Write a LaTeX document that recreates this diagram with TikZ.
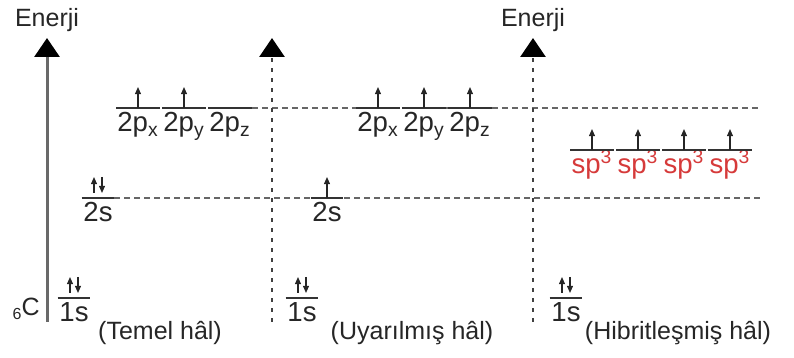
\documentclass[tikz,border=0pt]{standalone}
\usepackage{fontspec}
\setmainfont{Liberation Sans}
\usetikzlibrary{arrows.meta}
\definecolor{hibred}{RGB}{214,58,58}
\definecolor{axgray}{RGB}{105,105,105}

\begin{document}
\begin{tikzpicture}[x=0.5pt, y=0.5pt, node distance=23pt, text=black!85,
  orb/.style = {inner xsep=0pt, inner ysep=2pt, anchor=north, minimum width=21.5pt,
    text height=9.8pt, text depth=3pt, font=\fontsize{13.8}{16}\selectfont},
  orbs/.style = {orb, minimum width=16pt},
  hib/.style = {orb, text=hibred},
  state/.style = {font=\fontsize{12.5}{15}\selectfont},
  line/.style = {line width=0.8pt, draw=black!80},
  lvl/.style = {line width=0.75pt, draw=black!60, dash pattern=on 3pt off 2pt},
  mainax/.style = {line width=1.5pt, draw=axgray, -{Triangle[width=12.5pt,length=9.5pt,color=black]}},
  dotax/.style = {line width=1.4pt, draw=black!75, dash pattern=on 2.2pt off 2.8pt,
    -{Triangle[width=12.5pt,length=9.5pt,color=black]}},
  el/.style = {line width=0.65pt, draw=black!85, -{Triangle[width=3pt,length=3.6pt]}}]

\useasboundingbox (0,0) rectangle (794,358);

% axes
\coordinate (b1) at (47,36);  \coordinate (t1) at (47,320);
\coordinate (b2) at (272,36); \coordinate (t2) at (272,320);
\coordinate (b3) at (533,36); \coordinate (t3) at (533,320);
\coordinate (endP) at (760,250);
\coordinate (endS) at (760,160);

% Temel hal
\node[orbs] (1sT) at (74,60) {1s};
\node[orbs] (2sT) at (98,160) {2s};
\node[orb] (pxT) at (138,250) {2p\textsubscript{x}};
\node[orb, right of=pxT] (pyT) {2p\textsubscript{y}};
\node[orb, right of=pyT] (pzT) {2p\textsubscript{z}};

% Uyarilmis hal
\node[orbs] (1sU) at (302,60) {1s};
\node[orbs] (2sU) at (327,160) {2s};
\node[orb] (pxU) at (378,250) {2p\textsubscript{x}};
\node[orb, right of=pxU] (pyU) {2p\textsubscript{y}};
\node[orb, right of=pyU] (pzU) {2p\textsubscript{z}};

% Hibritlesmis hal
\node[orbs] (1sH) at (566,60) {1s};
\node[hib] (h1) at (592,208) {sp\textsuperscript{3}};
\node[hib, right of=h1] (h2) {sp\textsuperscript{3}};
\node[hib, right of=h2] (h3) {sp\textsuperscript{3}};
\node[hib, right of=h3] (h4) {sp\textsuperscript{3}};

% levels
\draw[lvl] (pzT.north east) -- (endP);
\draw[lvl] (2sT.north east) -- (endS);

\draw[mainax] (b1) -- (t1);
\draw[dotax] (b2) -- (t2);
\draw[dotax] (b3) -- (t3);

\foreach \n in {1sT,2sT,pxT,pyT,pzT,1sU,2sU,pxU,pyU,pzU,1sH,h1,h2,h3,h4}
  \draw[line] (\n.north west) -- (\n.north east);

% electrons
\foreach \n in {pxT,pyT,2sU,pxU,pyU,pzU,h1,h2,h3,h4}
  \draw[el] (\n.north) -- ++(0,21);
\foreach \n in {1sT,2sT,1sU,1sH} {
  \draw[el] (\n.north) ++(-4,5) -- ++(0,16);
  \draw[el] (\n.north) ++(4,21) -- ++(0,-16);
}

\node[state, above=3pt, inner sep=0pt] (en1) at (t1) {Enerji};
\node[state, above=3pt, inner sep=0pt] (en3) at (t3) {Enerji};
\node[state, anchor=base east, inner sep=0pt] (c6) at (40,42) {{\fontsize{8}{9}\selectfont\raisebox{-2pt}{6}}C};

\node[state] (temel) at (160,25) {(Temel hâl)};
\node[state] (uyar) at (412,25) {(Uyarılmış hâl)};
\node[state] (hibr) at (678,25) {(Hibritleşmiş hâl)};

\end{tikzpicture}
\end{document}
